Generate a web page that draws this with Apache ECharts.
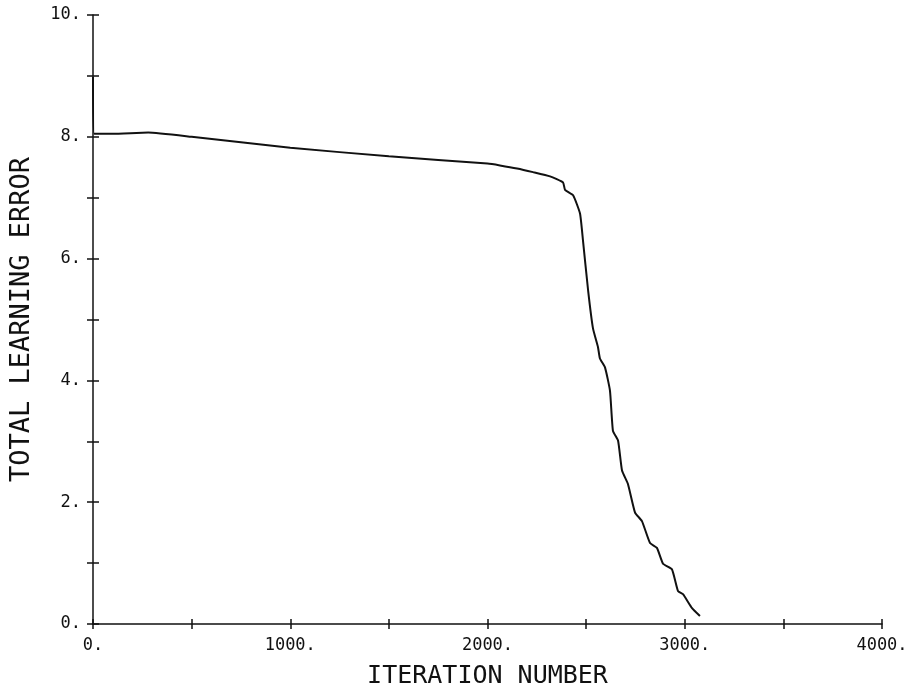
<!DOCTYPE html>
<html>
<head>
<meta charset="utf-8">
<script src="https://cdn.jsdelivr.net/npm/echarts@6/dist/echarts.min.js"></script>
<style>
  html, body { margin: 0; padding: 0; background: #fff; }
  #chart { width: 909px; height: 687px; }
</style>
</head>
<body>
<div id="chart"></div>
<script>
// values
const iterations = [0, 6, 100, 280, 500, 1000, 1500, 2000, 2063, 2150, 2231, 2317, 2383, 2393, 2434,
  2469, 2484, 2510, 2535, 2560, 2570, 2596, 2621, 2636, 2662, 2682, 2712, 2748, 2783, 2824,
  2859, 2890, 2935, 2966, 2991, 3037, 3077];
const learningError = [8.98, 8.05, 8.05, 8.07, 8.00, 7.82, 7.68, 7.56, 7.53, 7.48, 7.42, 7.35, 7.25, 7.13, 7.04,
  6.74, 6.30, 5.48, 4.85, 4.55, 4.36, 4.21, 3.83, 3.17, 3.01, 2.52, 2.30, 1.83, 1.69, 1.33,
  1.25, 0.99, 0.90, 0.54, 0.49, 0.26, 0.13];

const xLabelStep = 1000;
const yLabelStep = 2;

const FONT = "DejaVu Sans Mono";
const INK = "#111";

const chart = echarts.init(document.getElementById("chart"), null, { renderer: "canvas" });

const tickLine = { lineStyle: { color: INK, width: 1.5 } };

function xAxisBase(){
  return { type: "value", min: 0, max: 4000, interval: 500, splitLine: { show: false } };
}
function yAxisBase(){
  return { type: "value", min: 0, max: 10, interval: 1, splitLine: { show: false } };
}

chart.setOption({
  animation: false,
  backgroundColor: "#fff",
  grid: { left: 93, right: 27, top: 15, bottom: 63, containLabel: false, outerBoundsMode: "none" },
  xAxis: [
    Object.assign(xAxisBase(), {
      position: "bottom",
      name: "ITERATION NUMBER",
      nameLocation: "middle",
      nameGap: 40,
      nameTextStyle: { fontFamily: FONT, fontSize: 25, color: INK },
      axisLine: { show: true, lineStyle: { color: INK, width: 1.5 } },
      axisTick: Object.assign({ show: true, inside: false, length: 5 }, tickLine),
      axisLabel: {
        margin: 13,
        fontFamily: FONT,
        fontSize: 17,
        color: INK,
        formatter: (v) => (v % xLabelStep === 0 ? v + "." : "")
      }
    }),
    Object.assign(xAxisBase(), {
      position: "bottom",
      axisLine: { show: false },
      axisTick: Object.assign({ show: true, inside: true, length: 5 }, tickLine),
      axisLabel: { show: false }
    })
  ],
  yAxis: [
    Object.assign(yAxisBase(), {
      position: "left",
      name: "TOTAL LEARNING ERROR",
      nameLocation: "middle",
      nameGap: 58,
      nameTextStyle: { fontFamily: FONT, fontSize: 27, color: INK },
      axisLine: { show: true, lineStyle: { color: INK, width: 1.5 } },
      axisTick: Object.assign({ show: true, inside: false, length: 6 }, tickLine),
      axisLabel: {
        margin: 12,
        fontFamily: FONT,
        fontSize: 17,
        color: INK,
        formatter: (v) => (v % yLabelStep === 0 ? v + "." : "")
      }
    }),
    Object.assign(yAxisBase(), {
      position: "left",
      axisLine: { show: false },
      axisTick: Object.assign({ show: true, inside: true, length: 6 }, tickLine),
      axisLabel: { show: false }
    })
  ],
  series: [
    {
      name: "Total learning error",
      type: "line",
      xAxisIndex: 0,
      yAxisIndex: 0,
      showSymbol: false,
      smooth: 0.15,
      lineStyle: { color: INK, width: 2 },
      data: iterations.map((it, i) => [it, learningError[i]])
    }
  ]
});
</script>
</body>
</html>
